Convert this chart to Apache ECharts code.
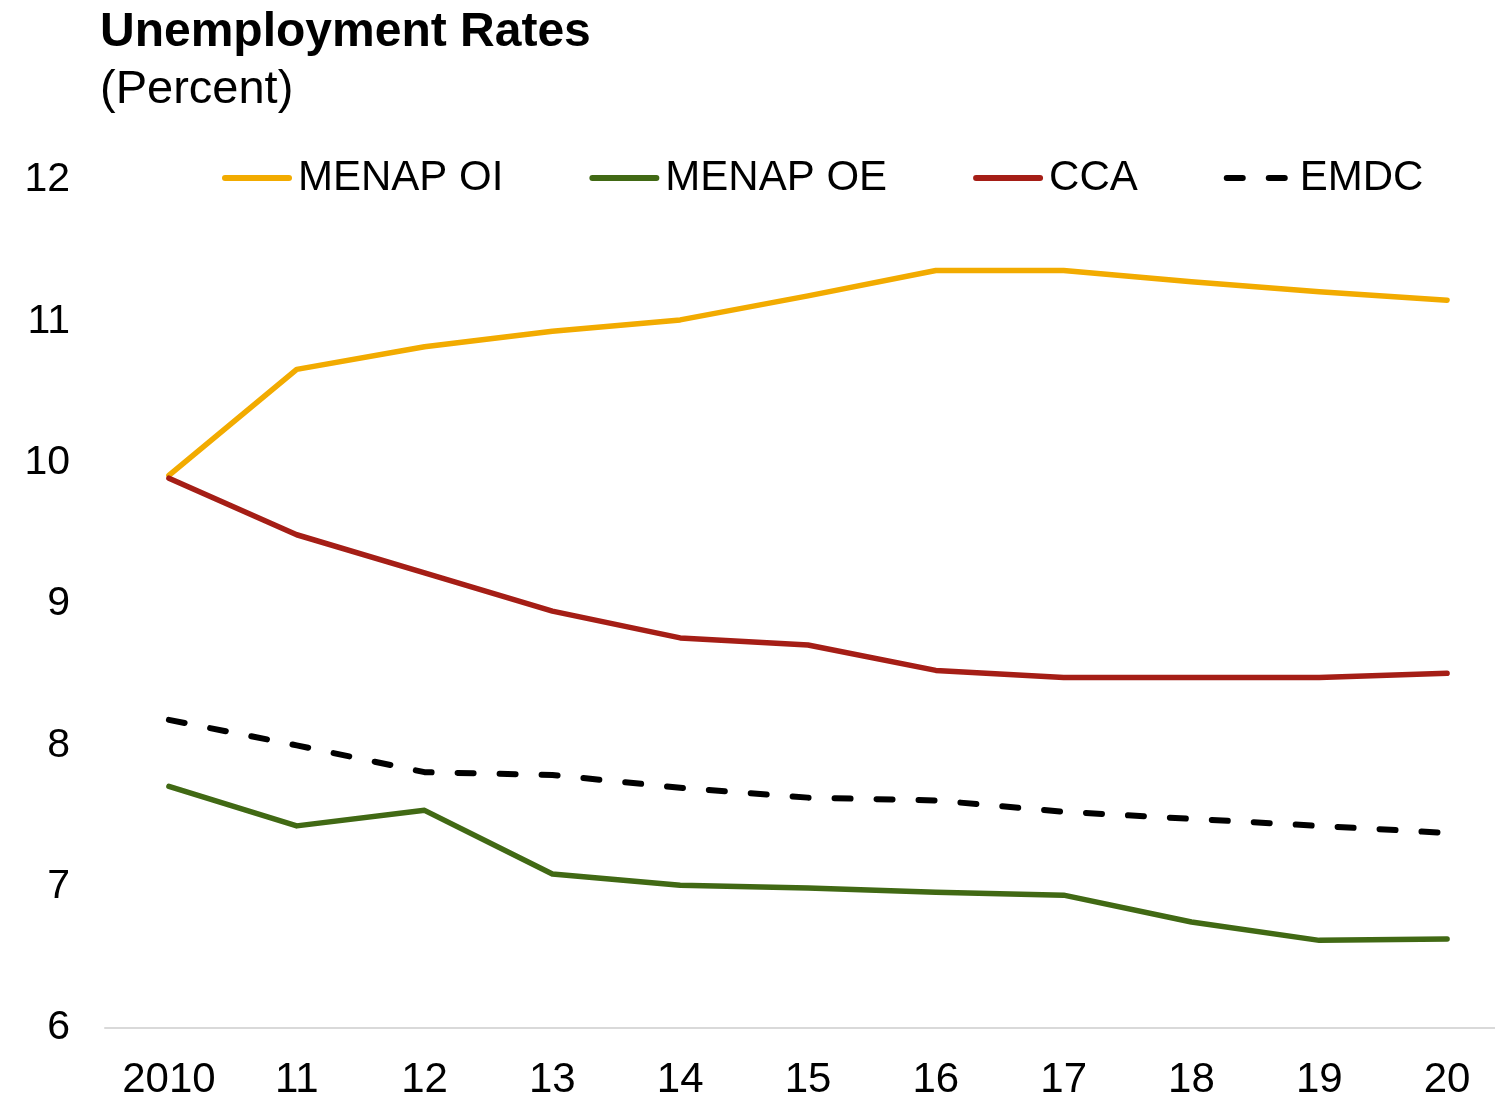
<!DOCTYPE html>
<html>
<head>
<meta charset="utf-8">
<script src="https://cdn.jsdelivr.net/npm/echarts@6/dist/echarts.min.js"></script>
<style>
  html, body { margin: 0; padding: 0; background: #fff; overflow: hidden; }
  /* the plot runs slightly past the right edge of the picture */
  #chart { width: 1511px; height: 1102px; }
</style>
</head>
<body>
<div id="chart"></div>
<script>
// years on the x axis
const years = ['2010', '11', '12', '13', '14', '15', '16', '17', '18', '19', '20'];

// unemployment rates, percent
const menapOI = [9.91, 10.66, 10.82, 10.93, 11.01, 11.18, 11.36, 11.36, 11.28, 11.21, 11.15];
const menapOE = [7.71, 7.43, 7.54, 7.09, 7.01, 6.99, 6.96, 6.94, 6.75, 6.62, 6.63];
const cca = [9.89, 9.49, 9.22, 8.95, 8.76, 8.71, 8.53, 8.48, 8.48, 8.48, 8.51];
const emdc = [8.18, 8.00, 7.81, 7.79, 7.70, 7.63, 7.61, 7.53, 7.48, 7.43, 7.38];

const yTicks = [6, 12, 1]; // min, max, step

const font = '"Liberation Sans", Arial, sans-serif';

const chart = echarts.init(document.getElementById('chart'));

function lineSeries(name, data, color, dashed) {
  return {
    name: name,
    type: 'line',
    data: data,
    symbol: 'none',
    smooth: false,
    lineStyle: {
      color: color,
      width: dashed ? 6 : 5.5,
      type: dashed ? [16, 26] : 'solid',
      cap: 'round',
      join: 'round'
    },
    itemStyle: { color: color },
    emphasis: { disabled: true }
  };
}

chart.setOption({
  animation: false,
  backgroundColor: '#fff',
  title: {
    text: 'Unemployment Rates',
    subtext: '(Percent)',
    left: 100,
    top: 9,
    itemGap: 10,
    padding: 0,
    textStyle: { fontFamily: font, fontSize: 48, fontWeight: 'bold', color: '#000' },
    subtextStyle: { fontFamily: font, fontSize: 47, color: '#000' }
  },
  legend: {
    top: 157,
    left: 222,
    itemWidth: 64,
    itemHeight: 20,
    itemGap: 86,
    padding: 0,
    itemStyle: { opacity: 0 },
    lineStyle: { width: 6, cap: 'round' },
    textStyle: { fontFamily: font, fontSize: 42, color: '#000', padding: [0, 0, 0, 4] },
    data: ['MENAP OI', 'MENAP OE', 'CCA', 'EMDC']
  },
  grid: {
    left: 105,
    right: 0,
    top: 180,
    bottom: 74,
    containLabel: false
  },
  xAxis: {
    type: 'category',
    data: years,
    boundaryGap: true,
    axisLine: { lineStyle: { color: '#d9d9d9', width: 2 } },
    axisTick: { show: false },
    axisLabel: { fontFamily: font, fontSize: 42, color: '#000', margin: 31 },
    splitLine: { show: false }
  },
  yAxis: {
    type: 'value',
    min: yTicks[0],
    max: yTicks[1],
    interval: yTicks[2],
    axisLine: { show: false },
    axisTick: { show: false },
    splitLine: { show: false },
    axisLabel: { fontFamily: font, fontSize: 41, color: '#000', margin: 35 }
  },
  series: [
    lineSeries('MENAP OI', menapOI, '#F2AB00', false),
    lineSeries('MENAP OE', menapOE, '#416914', false),
    lineSeries('CCA', cca, '#A51E16', false),
    lineSeries('EMDC', emdc, '#000000', true)
  ]
});
</script>
</body>
</html>
